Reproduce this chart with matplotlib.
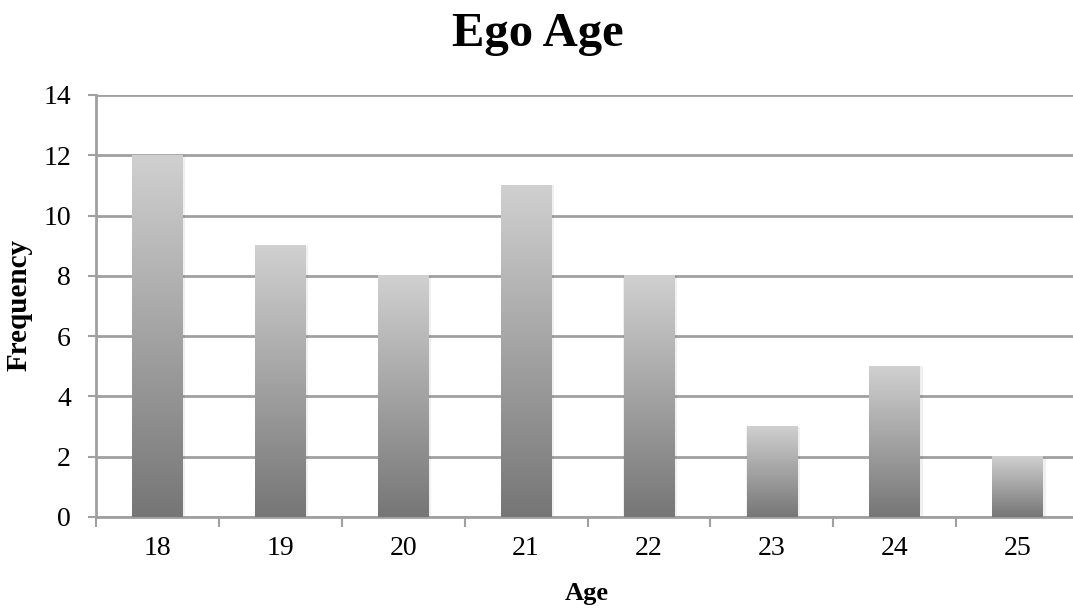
import numpy as np
import matplotlib.pyplot as plt
from matplotlib.colors import LinearSegmentedColormap

ages = ["18", "19", "20", "21", "22", "23", "24", "25"]
freq = [12, 9, 8, 11, 8, 3, 5, 2]

plt.rcParams['font.family'] = ['Liberation Serif', 'DejaVu Serif']

fig = plt.figure(figsize=(10.73, 6.08), dpi=100)
ax = fig.add_axes([96/1073, 91/608, 983/1073, 422/608])

x = np.arange(len(ages))
bw = 0.41
grad = np.linspace(0, 1, 256).reshape(-1, 1)
cmap = LinearSegmentedColormap.from_list("g", ["#767676", "#d0d0d0"])
for xi, h in zip(x, freq):
    # soft shadow
    ax.bar(xi + 0.01, h, width=bw + 0.025, color="#000000", alpha=0.06, zorder=2)
    ax.imshow(grad, cmap=cmap, origin="lower", aspect="auto",
              extent=(xi - bw/2, xi + bw/2, 0, h), zorder=3)

ax.set_xlim(-0.5, len(ages) - 0.5)
ax.set_ylim(0, 14)
ax.set_yticks(range(0, 15, 2))
ax.set_xticks(x)
ax.set_xticklabels(ages)
ax.set_xticks(np.arange(-0.5, len(ages), 1), minor=True)
ax.tick_params(axis='x', which='major', length=0, pad=14, labelsize=20)
ax.tick_params(axis='x', which='minor', length=7, width=1.5, color="#a0a0a0")
ax.tick_params(axis='y', length=6, width=1.5, color="#a0a0a0", labelsize=20, pad=12)

ax.yaxis.grid(True, color="#a0a0a0", linewidth=2)
ax.set_axisbelow(True)
for s in ["top", "right"]:
    ax.spines[s].set_visible(False)
for s in ["left", "bottom"]:
    ax.spines[s].set_color("#a0a0a0")
    ax.spines[s].set_linewidth(2)

fig.text(587/1073, 1 - 600/608, "Age", ha="center", va="baseline",
         fontsize=19, fontweight="bold")
fig.text(19/1073, 1 - 305/608, "Frequency", ha="center", va="center",
         rotation=90, fontsize=21, fontweight="bold")
fig.text(538/1073, 1 - 46/608, "Ego Age", ha="center", va="baseline",
         fontsize=35, fontweight="bold")

fig.savefig("out.png", dpi=100)
